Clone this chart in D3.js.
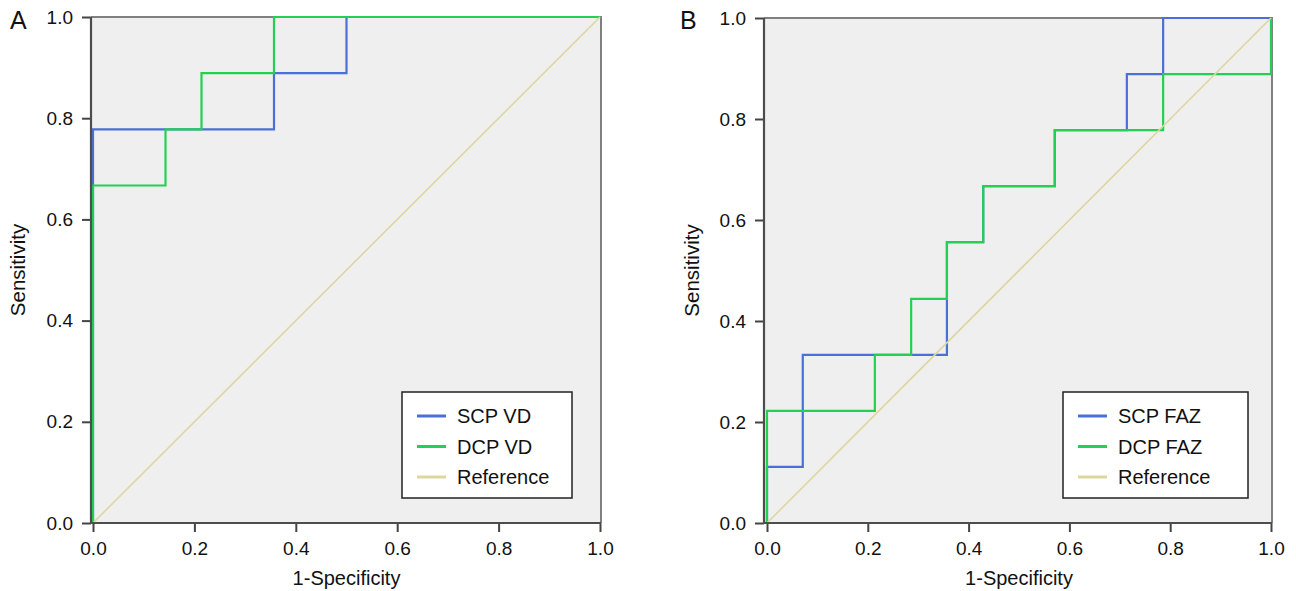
<!DOCTYPE html>
<html>
<head>
<meta charset="utf-8">
<script src="https://cdn.jsdelivr.net/npm/d3@7"></script>
<style>
  html, body { margin: 0; padding: 0; background: #fff; }
  svg { display: block; font-family: "Liberation Sans", Arial, sans-serif; }
</style>
</head>
<body>
<svg id="chart" width="1296" height="591"></svg>
<script>
// tick values shared by both panels
var tickValues = [0, 0.2, 0.4, 0.6, 0.8, 1.0];

// panel A - vessel density (ROC points, 1-specificity / sensitivity)
var scpVdFpr = [0, 0, 0.357, 0.5, 1];
var scpVdTpr = [0, 0.778, 0.889, 1, 1];
var dcpVdFpr = [0, 0, 0.143, 0.214, 0.357, 1];
var dcpVdTpr = [0, 0.667, 0.778, 0.889, 1, 1];

// panel B - foveal avascular zone
var scpFazFpr = [0, 0, 0.071, 0.357, 0.429, 0.571, 0.714, 0.786, 1];
var scpFazTpr = [0, 0.111, 0.333, 0.556, 0.667, 0.778, 0.889, 1, 1];
var dcpFazFpr = [0, 0, 0.214, 0.286, 0.357, 0.429, 0.571, 0.786, 1];
var dcpFazTpr = [0, 0.222, 0.333, 0.444, 0.556, 0.667, 0.778, 0.889, 1];

var refFpr = [0, 1];
var refTpr = [0, 1];

var colors = { scp: '#4a6fd8', dcp: '#22d152', ref: '#dcd79e' };

var svg = d3.select('#chart');

var zip = function(xs, ys) {
  return xs.map(function(x, i) { return [x, ys[i]]; });
};

var drawPanel = function(p) {
  var x = d3.scaleLinear().domain([0, 1]).range([p.x0, p.x1]);
  var y = d3.scaleLinear().domain([0, 1]).range([p.y0, p.y1]);
  var g = svg.append('g');

  // plot background
  g.append('rect')
    .attr('x', p.frameLeft).attr('y', p.y1)
    .attr('width', p.frameRight - p.frameLeft).attr('height', p.y0 - p.y1)
    .attr('fill', '#efefef');

  // top and right frame
  g.append('path')
    .attr('d', 'M' + p.frameLeft + ',' + p.y1 + 'H' + p.frameRight + 'V' + p.y0)
    .attr('fill', 'none').attr('stroke', '#808080').attr('stroke-width', 2);

  var line = d3.line()
    .x(function(d) { return x(d[0]); })
    .y(function(d) { return y(d[1]); })
    .curve(d3.curveStepAfter);

  p.series.forEach(function(s) {
    g.append('path')
      .datum(zip(s.fpr, s.tpr))
      .attr('d', line)
      .attr('fill', 'none')
      .attr('stroke', s.color)
      .attr('stroke-width', 2.2);
  });

  // reference diagonal
  g.append('path')
    .datum(zip(refFpr, refTpr))
    .attr('d', d3.line().x(function(d) { return x(d[0]); }).y(function(d) { return y(d[1]); }))
    .attr('fill', 'none')
    .attr('stroke', colors.ref)
    .attr('stroke-width', 1.6);

  // axes
  var yAxis = g.append('g')
    .attr('transform', 'translate(' + p.frameLeft + ',0)')
    .call(d3.axisLeft(y).tickValues(tickValues).tickFormat(d3.format('.1f'))
      .tickSize(9).tickPadding(9).tickSizeOuter(0));
  var xAxis = g.append('g')
    .attr('transform', 'translate(0,' + p.y0 + ')')
    .call(d3.axisBottom(x).tickValues(tickValues).tickFormat(d3.format('.1f'))
      .tickSize(9).tickPadding(10).tickSizeOuter(0));

  [yAxis, xAxis].forEach(function(a) {
    a.select('.domain').remove();
    a.selectAll('line').attr('stroke', '#444').attr('stroke-width', 2);
    a.selectAll('text').attr('fill', '#111').style('font-size', '19px')
      .style('font-family', '"Liberation Sans", Arial, sans-serif');
  });

  // left and bottom axis lines
  g.append('path')
    .attr('d', 'M' + p.frameLeft + ',' + p.y1 + 'V' + p.y0 + 'H' + p.frameRight)
    .attr('fill', 'none').attr('stroke', '#4d4d4d').attr('stroke-width', 2.2);

  // titles
  g.append('text')
    .attr('x', (p.x0 + p.x1) / 2).attr('y', 585)
    .attr('text-anchor', 'middle').style('font-size', '20px').attr('fill', '#111')
    .text('1-Specificity');
  g.append('text')
    .attr('transform', 'translate(' + p.yTitleX + ',' + (p.y0 + p.y1) / 2 + ') rotate(-90)')
    .attr('text-anchor', 'middle').attr('dy', '0.35em')
    .style('font-size', '20.5px').attr('fill', '#111')
    .text('Sensitivity');
  g.append('text')
    .attr('x', p.labelX).attr('y', 29)
    .style('font-size', '25px').attr('fill', '#111')
    .text(p.label);

  // legend
  var lg = g.append('g').attr('transform', 'translate(' + p.legendX + ',' + p.legendY + ')');
  lg.append('rect')
    .attr('width', p.legendW).attr('height', 106)
    .attr('fill', '#fff').attr('stroke', '#222').attr('stroke-width', 1.5);
  var items = p.series.map(function(s) { return { name: s.name, color: s.color }; })
    .concat([{ name: 'Reference', color: colors.ref }]);
  items.forEach(function(it, i) {
    var cy = 24 + i * 30.5;
    lg.append('line')
      .attr('x1', 15).attr('x2', 44).attr('y1', cy).attr('y2', cy)
      .attr('stroke', it.color).attr('stroke-width', 3);
    lg.append('text')
      .attr('x', 55).attr('y', cy).attr('dy', '0.35em')
      .style('font-size', '20px').attr('fill', '#111')
      .text(it.name);
  });
};

drawPanel({
  label: 'A', labelX: 10,
  x0: 93, x1: 600, y0: 523, y1: 17,
  frameLeft: 91, frameRight: 601,
  yTitleX: 18,
  legendX: 402, legendY: 392, legendW: 170,
  series: [
    { name: 'SCP VD', fpr: scpVdFpr, tpr: scpVdTpr, color: colors.scp },
    { name: 'DCP VD', fpr: dcpVdFpr, tpr: dcpVdTpr, color: colors.dcp }
  ]
});

drawPanel({
  label: 'B', labelX: 680,
  x0: 767, x1: 1271, y0: 523, y1: 18,
  frameLeft: 764, frameRight: 1272,
  yTitleX: 692,
  legendX: 1063, legendY: 392, legendW: 185,
  series: [
    { name: 'SCP FAZ', fpr: scpFazFpr, tpr: scpFazTpr, color: colors.scp },
    { name: 'DCP FAZ', fpr: dcpFazFpr, tpr: dcpFazTpr, color: colors.dcp }
  ]
});
</script>
</body>
</html>
